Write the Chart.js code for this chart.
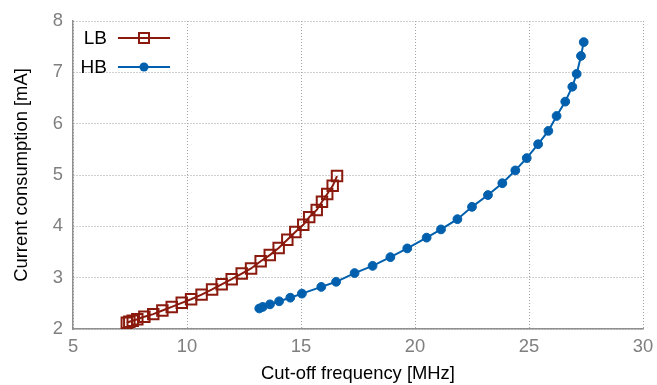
<!DOCTYPE html>
<html>
<head>
<meta charset="utf-8">
<script src="https://cdn.jsdelivr.net/npm/chart.js@4.4.1/dist/chart.umd.min.js"></script>
<style>
  html, body { margin: 0; padding: 0; background: #fff; }
  #wrap { width: 657px; height: 385px; position: relative; }
</style>
</head>
<body>
<div id="wrap"><canvas id="chart"></canvas></div>
<script>
// LB band: cut-off frequency [MHz] vs current [mA]
const lbFreq = [7.36, 7.47, 7.62, 7.82, 8.13, 8.52, 8.92, 9.33, 9.77, 10.18,
  10.64, 11.10, 11.52, 11.96, 12.40, 12.81, 13.23, 13.63, 14.02, 14.40,
  14.75, 15.10, 15.36, 15.69, 15.92, 16.15, 16.39, 16.58];
const lbCurrent = [2.12, 2.14, 2.16, 2.19, 2.24, 2.29, 2.36, 2.43, 2.51, 2.58,
  2.67, 2.77, 2.87, 2.97, 3.08, 3.18, 3.32, 3.44, 3.58, 3.74,
  3.89, 4.03, 4.18, 4.32, 4.48, 4.63, 4.79, 4.98];

// HB band
const hbFreq = [13.17, 13.32, 13.64, 14.04, 14.53, 15.04, 15.89, 16.54, 17.35, 18.14,
  18.92, 19.66, 20.51, 21.14, 21.86, 22.50, 23.20, 23.83, 24.40, 24.90,
  25.40, 25.85, 26.21, 26.59, 26.90, 27.09, 27.28, 27.40];
const hbCurrent = [2.40, 2.43, 2.48, 2.54, 2.61, 2.69, 2.82, 2.92, 3.09, 3.23,
  3.40, 3.57, 3.78, 3.94, 4.14, 4.38, 4.61, 4.84, 5.09, 5.33,
  5.60, 5.86, 6.15, 6.43, 6.72, 6.97, 7.32, 7.59];

const seriesNames = ['LB', 'HB'];
const xTitle = 'Cut-off frequency [MHz]';
const yTitle = 'Current consumption [mA]';

const RED = '#8b1a0e';
const BLUE = '#0060ad';
const FONT = "'Liberation Sans', Arial, sans-serif";

function toPoints(xs, ys) {
  return xs.map((x, i) => ({ x: x, y: ys[i] }));
}

// gnuplot-style key: label text, then a line sample with a marker in the middle
const keyPlugin = {
  id: 'gnuKey',
  afterDatasetsDraw(chart) {
    const ctx = chart.ctx;
    const rows = [
      { label: seriesNames[0], color: RED, style: 'rect', y: 38 },
      { label: seriesNames[1], color: BLUE, style: 'circle', y: 67 }
    ];
    ctx.save();
    ctx.font = '19px ' + FONT;
    ctx.textAlign = 'right';
    ctx.textBaseline = 'middle';
    rows.forEach(r => {
      ctx.fillStyle = '#000';
      ctx.fillText(r.label, 107, r.y + 1);
      ctx.strokeStyle = r.color;
      ctx.lineWidth = 2;
      ctx.beginPath();
      ctx.moveTo(118, r.y);
      ctx.lineTo(170, r.y);
      ctx.stroke();
      if (r.style === 'rect') {
        ctx.strokeRect(139, r.y - 5, 10, 10);
      } else {
        ctx.fillStyle = r.color;
        ctx.beginPath();
        ctx.arc(144, r.y, 4.5, 0, Math.PI * 2);
        ctx.fill();
      }
    });
    ctx.restore();
  }
};

new Chart(document.getElementById('chart'), {
  type: 'scatter',
  data: {
    datasets: [
      {
        label: seriesNames[0],
        data: toPoints(lbFreq, lbCurrent),
        showLine: true,
        borderColor: RED,
        backgroundColor: 'rgba(0,0,0,0)',
        borderWidth: 2,
        pointStyle: 'rect',
        pointRadius: 7.4,
        pointBorderWidth: 2,
        pointBorderColor: RED,
        pointBackgroundColor: 'rgba(0,0,0,0)',
        tension: 0
      },
      {
        label: seriesNames[1],
        data: toPoints(hbFreq, hbCurrent),
        showLine: true,
        borderColor: BLUE,
        backgroundColor: BLUE,
        borderWidth: 2,
        pointStyle: 'circle',
        pointRadius: 4.4,
        pointBorderWidth: 1,
        pointBorderColor: BLUE,
        pointBackgroundColor: BLUE,
        tension: 0
      }
    ]
  },
  options: {
    responsive: true,
    maintainAspectRatio: false,
    animation: false,
    layout: { padding: { left: 0, top: 19, right: 0, bottom: 0 } },
    plugins: {
      legend: { display: false },
      tooltip: { enabled: false }
    },
    scales: {
      x: {
        type: 'linear',
        min: 5,
        max: 30,
        afterFit: s => { s.height = 56; s.paddingRight = 14; s.paddingLeft = 0; },
        ticks: {
          stepSize: 5,
          color: '#7f7f7f',
          padding: 7,
          font: { family: FONT, size: 18.4 }
        },
        grid: { color: '#a0a0a0', lineWidth: 1, drawTicks: false },
        border: { color: '#909090', width: 1.5, dash: [1, 2] },
        title: {
          display: true,
          text: xTitle,
          color: '#000',
          padding: { top: 0, bottom: 0 },
          font: { family: FONT, size: 18.4 }
        }
      },
      y: {
        type: 'linear',
        min: 2,
        max: 8,
        afterFit: s => { s.width = 73; },
        ticks: {
          stepSize: 1,
          color: '#7f7f7f',
          padding: 10,
          font: { family: FONT, size: 18.4 }
        },
        grid: { color: '#a0a0a0', lineWidth: 1, drawTicks: false },
        border: { color: '#909090', width: 1.5, dash: [1, 2] },
        title: {
          display: true,
          text: yTitle,
          color: '#000',
          padding: { top: 11, bottom: 0 },
          font: { family: FONT, size: 18.4 }
        }
      }
    }
  },
  plugins: [keyPlugin]
});
</script>
</body>
</html>
